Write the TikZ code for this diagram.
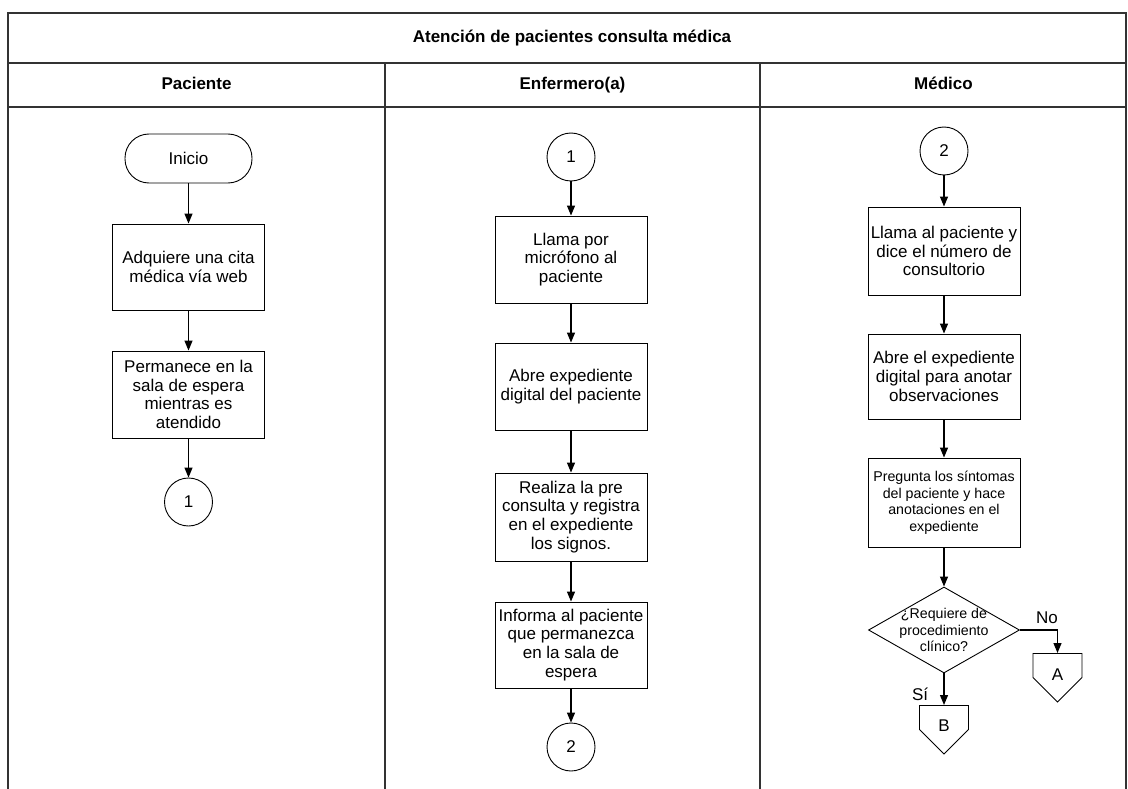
\documentclass[tikz,border=0pt]{standalone}
\usepackage{fontspec}
\setmainfont{Liberation Sans}
\usetikzlibrary{shapes.geometric,shapes.symbols,arrows.meta}
\tikzset{
  txt/.style={font=\fontsize{17}{18.8}\selectfont},
  sml/.style={font=\fontsize{14.2}{16.5}\selectfont},
  hd/.style={font=\fontsize{17}{19}\selectfont\bfseries,text height=12.5pt,text depth=3.5pt},
  proc/.style={txt,draw,line width=0.9pt,minimum width=152pt,minimum height=87pt,align=center,inner xsep=1pt},
  term/.style={txt,draw,line width=0.9pt,rounded corners=24pt,minimum width=127pt,minimum height=49pt},
  conn/.style={txt,draw,circle,line width=0.9pt,minimum size=48pt,inner sep=0pt},
  dec/.style={draw,diamond,line width=0.9pt,minimum width=151pt,minimum height=86pt,inner sep=0pt},
  offpg/.style={draw,signal,signal to=south,signal pointer angle=90,line width=0.9pt,minimum width=49pt,minimum height=24pt,inner sep=0pt,anchor=north},
  flow/.style={line width=1.2pt,-{Triangle[length=10pt,width=8pt]}},
  lane/.style={line width=1.6pt,draw=black!80}
}
\begin{document}
\begin{tikzpicture}[x=1pt,y=-1pt]
 	   			\useasboundingbox (0,0) rectangle (1128,789);
 	   			% marco y carriles
 	   			\draw[lane] (8,789) -- (8,13) -- (1126,13) -- (1126,789);
 	   			\draw[lane] (8,63) -- (1126,63);
 	   			\draw[lane] (8,107) -- (1126,107);
 	   			\foreach \x in {385,760}{
 	   					\draw[lane] (\x,63) -- (\x,789);
 	   			}
 	   			\node[hd] (title) at (572,38) {Atención de pacientes consulta médica};
 	   			\node[hd] (hpac) at (196.5,85) {Paciente};
 	   			\node[hd] (henf) at (572.5,85) {Enfermero(a)};
 	   			\node[hd] (hmed) at (943.5,85) {Médico};
 	   			% paciente
 	   			\node[term] (ini) at (188.5,158.5) {Inicio};
 	   			\node[proc,minimum height=86pt] (p1) at (188.5,267) {Adquiere una cita\\médica vía web};
 	   			\node[proc] (p2) at (188.5,394.5) {Permanece en la\\sala de espera\\mientras es\\atendido};
 	   			\node[conn] (c1a) at (188.5,502) {1};
 	   			\draw[flow] (ini) -- (p1);
 	   			\draw[flow] (p1) -- (p2);
 	   			\draw[flow] (p2) -- (c1a);
 	   			% enfermero(a)
 	   			\node[conn] (c1b) at (571,157) {1};
 	   			\node[proc] (e1) at (571,259.5) {Llama por\\micrófono al\\paciente};
 	   			\node[proc] (e2) at (571,386.5) {Abre expediente\\digital del paciente};
 	   			\node[proc,minimum height=88pt] (e3) at (571,517) {Realiza la pre\\consulta y registra\\en el expediente\\los signos.};
 	   			\node[proc,minimum height=86pt] (e4) at (571,645) {Informa al paciente\\que permanezca\\en la sala de\\espera};
 	   			\node[conn] (c2a) at (571,747) {2};
 	   			\draw[flow] (c1b) -- (e1);
 	   			\draw[flow] (e1) -- (e2);
 	   			\draw[flow] (e2) -- (e3);
 	   			\draw[flow] (e3) -- (e4);
 	   			\draw[flow] (e4) -- (c2a);
 	   			% medico
 	   			\node[conn] (c2b) at (944,151) {2};
 	   			\node[proc,minimum height=88pt] (m1) at (944,251) {Llama al paciente y\\dice el número de\\consultorio};
 	   			\node[proc,minimum height=85pt] (m2) at (944,376.5) {Abre el expediente\\digital para anotar\\observaciones};
 	   			\node[proc,sml,minimum height=89pt] (m3) at (944,502.5) {Pregunta los síntomas\\del paciente y hace\\anotaciones en el\\expediente};
 	   			\node[dec,label={[sml,align=center]center:¿Requiere de\\procedimiento\\clínico?}] (q) at (944,630) {};
 	   			\node[offpg,label={[txt,yshift=-8pt]center:B}] (B) at (944,705) {};
 	   			\node[offpg,label={[txt,yshift=-9pt]center:A}] (A) at (1057.5,653) {};
 	   			\draw[flow] (c2b) -- (m1);
 	   			\draw[flow] (m1) -- (m2);
 	   			\draw[flow] (m2) -- (m3);
 	   			\draw[flow] (m3) -- (q);
 	   			\draw[flow] (q) -- node[txt,pos=0.65,left=12pt] {Sí} (B);
 	   			\draw[flow] (q.east) -| node[txt,pos=0.36,above=2pt] {No} (A.north);
 	   		\end{tikzpicture}
\end{document}
